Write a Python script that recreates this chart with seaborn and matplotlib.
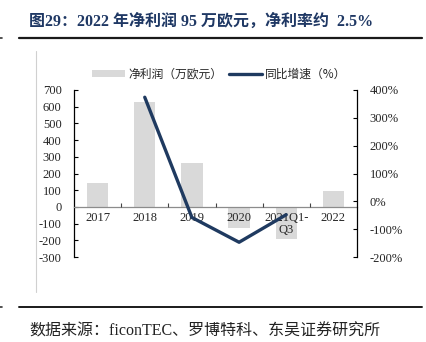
import matplotlib
matplotlib.use("Agg")
import matplotlib.pyplot as plt
from matplotlib.lines import Line2D
from matplotlib.patches import Patch
from matplotlib.ticker import FixedLocator, FuncFormatter
import seaborn as sns
import pandas as pd

# 净利润与同比增速
years = ["2017", "2018", "2019", "2020", "2021Q1-\nQ3", "2022"]
profit = [142, 628, 265, -125, -195, 95]            # 万欧元
growth_years = ["2018", "2019", "2020", "2021Q1-\nQ3"]
growth = [374, -58, -147, -48]                      # %

left_ticks = list(range(-300, 701, 100))
right_ticks = list(range(-200, 401, 100))

BAR = "#d9d9d9"
LINE = "#1f3a60"
SERIF = ["Liberation Serif", "Noto Sans CJK SC"]
CJK = ["Noto Sans CJK SC", "DejaVu Sans"]

sns.set_theme(style="white")
plt.rcParams["font.family"] = SERIF
plt.rcParams["axes.unicode_minus"] = False

fig = plt.figure(figsize=(4.26, 3.42), dpi=100)
ax = fig.add_axes([74 / 426, 1 - 257 / 342, (357 - 74) / 426, (257 - 90) / 342])

df = pd.DataFrame({"year": years, "profit": profit})
sns.barplot(data=df, x="year", y="profit", order=years, color=BAR,
            width=0.45, saturation=1, ax=ax, zorder=1)
for p in ax.patches:
    p.set_edgecolor("none")

ax.set_axisbelow(False)
ax.set_xlim(-0.5, len(years) - 0.5)
ax.set_ylim(-300, 700)
ax.set_xlabel("")
ax.set_ylabel("")
ax.yaxis.set_major_locator(FixedLocator(left_ticks))
ax.tick_params(axis="y", direction="in", length=3, width=0.8, color="black",
               labelsize=9, pad=9, left=True)
for lbl in ax.get_yticklabels():
    lbl.set_family(SERIF)

# 横轴置于零值处
ax.spines["top"].set_visible(False)
ax.spines["right"].set_visible(False)
ax.spines["left"].set_color("black")
ax.spines["left"].set_linewidth(0.9)
ax.spines["bottom"].set_position(("data", 0))
ax.spines["bottom"].set_color("#8c8c8c")
ax.spines["bottom"].set_linewidth(0.9)
ax.spines["bottom"].set_zorder(3)
ax.set_xticks(range(len(years)))
ax.set_xticklabels(years, fontsize=9, family=SERIF, linespacing=0.95)
ax.tick_params(axis="x", which="major", length=0, pad=4)
ax.set_xticks([i + 0.5 for i in range(len(years) - 1)], minor=True)
ax.tick_params(axis="x", which="minor", direction="in", length=3,
               width=0.8, color="#444444", bottom=True)
ax.xaxis.set_zorder(3)

# 同比增速折线（右轴）
ax2 = ax.twinx()
gx = [years.index(y) for y in growth_years]
gdf = pd.DataFrame({"x": gx, "growth": growth})
sns.lineplot(data=gdf, x="x", y="growth", color=LINE, linewidth=2.4,
             ax=ax2, zorder=3)
ax2.set_ylim(-200, 400)
ax2.set_xlim(-0.5, len(years) - 0.5)
ax2.set_ylabel("")
ax2.set_xlabel("")
ax2.yaxis.set_major_locator(FixedLocator(right_ticks))
ax2.yaxis.set_major_formatter(FuncFormatter(lambda v, _: f"{int(v)}%"))
ax2.tick_params(axis="y", direction="in", length=3, width=0.8, color="black",
                labelsize=9, pad=9, right=True)
for lbl in ax2.get_yticklabels():
    lbl.set_family(SERIF)
for s in ["top", "left", "bottom"]:
    ax2.spines[s].set_visible(False)
ax2.spines["right"].set_color("black")
ax2.spines["right"].set_linewidth(0.9)

# 图例
handles = [Patch(facecolor=BAR, edgecolor="none", label="净利润（万欧元）"),
           Line2D([], [], color=LINE, linewidth=2.4, label="同比增速（%）")]
fig.legend(handles=handles, loc="center left", bbox_to_anchor=(92 / 426, 1 - 74 / 342),
           ncol=2, frameon=False, prop={"family": CJK, "size": 8.5},
           handlelength=2.8, handleheight=0.55, columnspacing=0.6,
           handletextpad=0.25, borderpad=0, borderaxespad=0)

# 标题与来源
fig.text(29 / 426, 1 - 22 / 342, "图29：2022 年净利润 95 万欧元，净利率约  2.5%",
         fontsize=11.5, fontweight="bold", color="#1f3864", family=SERIF,
         ha="left", va="center")
fig.text(29 / 426, 1 - 332 / 342, "数据来源：ficonTEC、罗博特科、东吴证券研究所",
         fontsize=11.5, color="#222222", family=SERIF, ha="left", va="center")

# 版式线
fig.add_artist(Line2D([19 / 426, 422 / 426], [1 - 37.7 / 342] * 2,
                      color="#1a1a1a", linewidth=1.6))
fig.add_artist(Line2D([19 / 426, 422 / 426], [1 - 306.5 / 342] * 2,
                      color="#1a1a1a", linewidth=1.4))
fig.add_artist(Line2D([36 / 426, 36 / 426], [1 - 51 / 342, 1 - 292 / 342],
                      color="#d0d0d0", linewidth=0.8))
fig.add_artist(Line2D([0, 2 / 426], [1 - 37.5 / 342] * 2,
                      color="#333333", linewidth=1.2))
fig.add_artist(Line2D([0, 2 / 426], [1 - 306.5 / 342] * 2,
                      color="#333333", linewidth=1.2))

fig.savefig("out.png", dpi=100)
